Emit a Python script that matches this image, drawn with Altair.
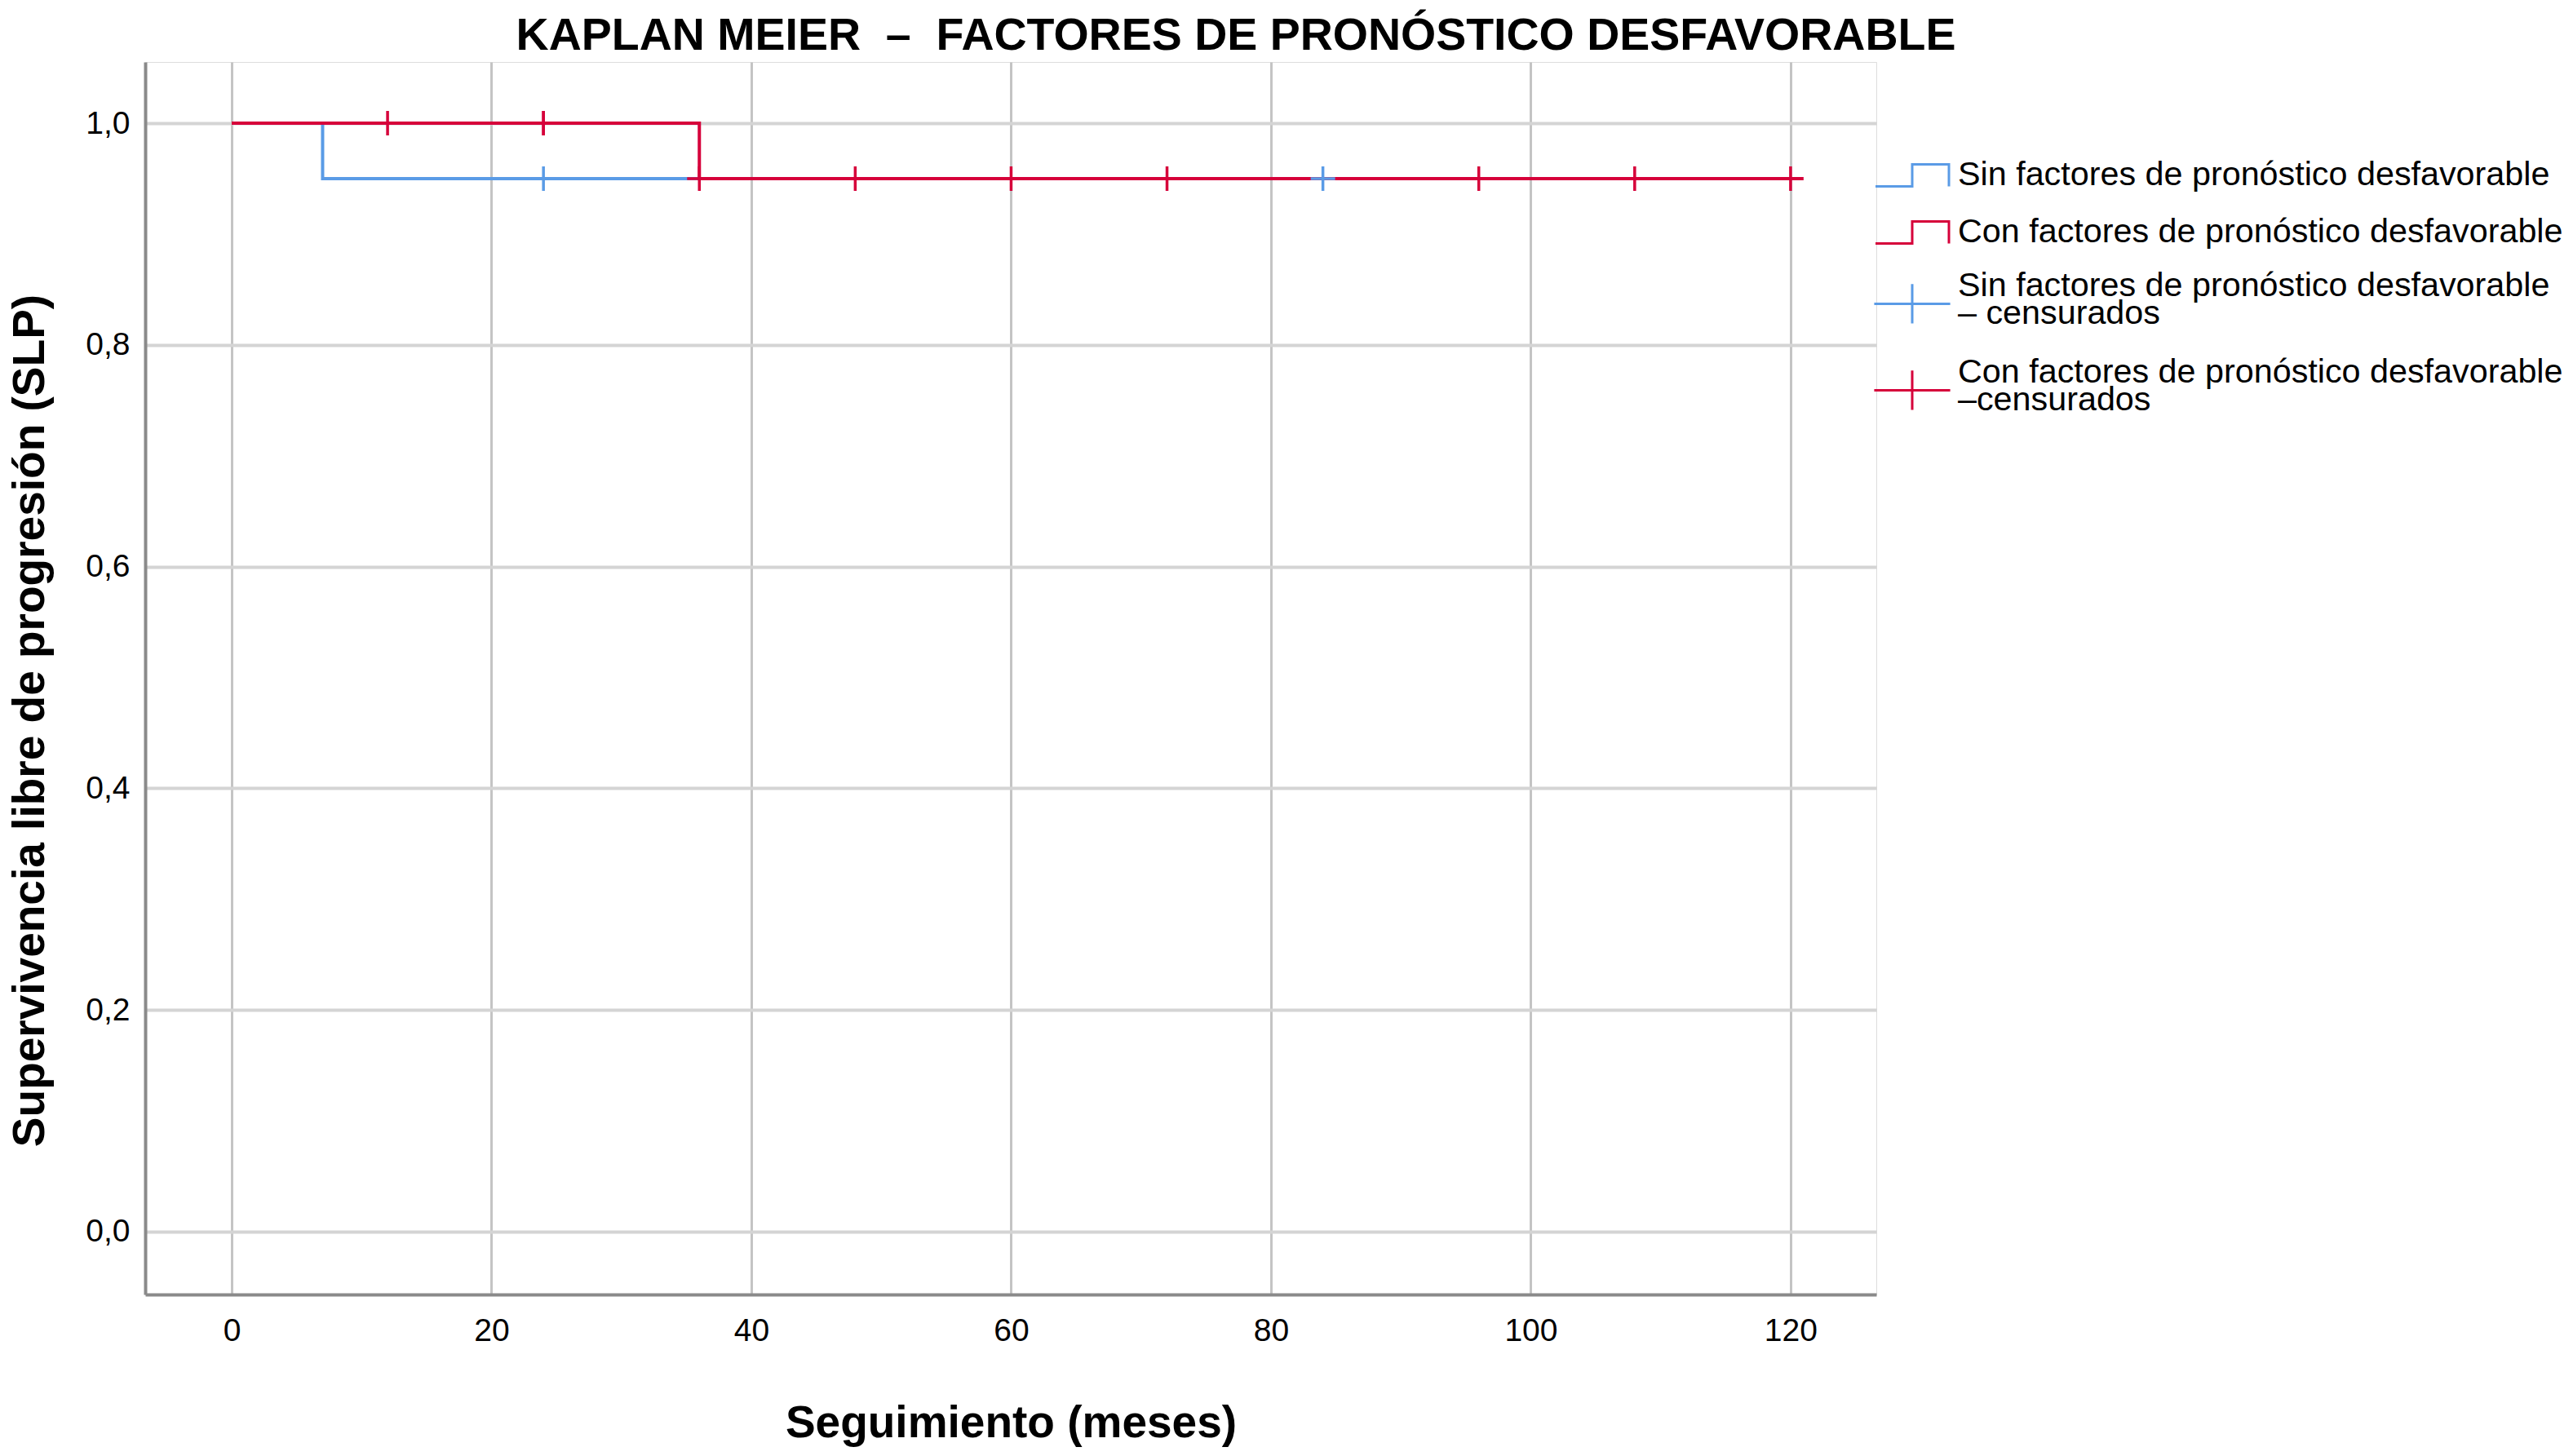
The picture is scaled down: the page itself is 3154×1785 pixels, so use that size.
import altair as alt
import pandas as pd

# ---- data ----
grupos = ["Sin factores de pronóstico desfavorable",
          "Con factores de pronóstico desfavorable"]
grupos_cens = ["Sin factores de pronóstico desfavorable\n– censurados",
               "Con factores de pronóstico desfavorable\n–censurados"]
colores = ["#5a9be6", "#d6003a"]

# Kaplan-Meier step curves (time in months, survival)
sin_t = [0, 7, 84]
sin_s = [1.0, 0.95, 0.95]
con_t = [0, 36, 121]
con_s = [1.0, 0.95, 0.95]

# censored observations
sin_cens_t = [24, 84]
sin_cens_s = [0.95, 0.95]
con_cens_t = [12, 24, 24, 36, 48, 60, 72, 96, 108, 120]
con_cens_s = [1.0, 1.0, 1.0, 0.95, 0.95, 0.95, 0.95, 0.95, 0.95, 0.95]

x_ticks = [0, 20, 40, 60, 80, 100, 120]
y_ticks = [0.0, 0.2, 0.4, 0.6, 0.8, 1.0]

titulo = "KAPLAN MEIER \u00a0–\u00a0 FACTORES DE PRONÓSTICO DESFAVORABLE"
x_titulo = "Seguimiento (meses)"
y_titulo = "Supervivencia libre de progresión (SLP)"

FONT = "Liberation Sans"

df_sin = pd.DataFrame({"t": sin_t, "s": sin_s, "grupo": grupos[0]})
df_con = pd.DataFrame({"t": con_t, "s": con_s, "grupo": grupos[1]})
df_cens = pd.concat([
    pd.DataFrame({"t": sin_cens_t, "s": sin_cens_s, "grupo_c": grupos_cens[0]}),
    pd.DataFrame({"t": con_cens_t, "s": con_cens_s, "grupo_c": grupos_cens[1]}),
])

xs = alt.Scale(domain=[-6.656, 126.6], nice=False, zero=False)
ys = alt.Scale(domain=[-0.0567, 1.0552], nice=False, zero=False)

x_axis = alt.Axis(values=x_ticks, title=x_titulo, grid=True, gridColor="#c4c4c4",
                  gridWidth=3, ticks=False, domainColor="#8a8a8a", domainWidth=4,
                  labelFontSize=39, labelFont=FONT, labelColor="#000000",
                  labelPadding=25, titleFontSize=55, titleFont=FONT,
                  titleFontWeight="bold", titleColor="#000000",
                  titleBaseline="alphabetic", titleY=174)
y_axis = alt.Axis(values=y_ticks, title=y_titulo, grid=True, gridColor="#d4d4d4",
                  gridWidth=4, ticks=False, domainColor="#8a8a8a", domainWidth=4,
                  labelFontSize=39, labelFont=FONT, labelColor="#000000",
                  labelPadding=19,
                  labelExpr="replace(format(datum.value, '.1f'), '.', ',')",
                  titleFontSize=55, titleFont=FONT, titleFontWeight="bold",
                  titleColor="#000000", titleX=-113, titleY=807)

color_scale = alt.Scale(domain=grupos, range=colores)
stroke_scale = alt.Scale(domain=grupos_cens, range=colores)

legend_lines = alt.Legend(title=None, orient="none", legendX=2142, legendY=115,
                          symbolType="M-2,0.6H0V-0.6H2V0.6", symbolSize=2025,
                          symbolStrokeWidth=3, symbolFillColor="transparent",
                          labelFontSize=41.3, labelFont=FONT, labelColor="#000000",
                          labelLimit=1200, labelOffset=32, rowPadding=25, padding=0)
legend_cens = alt.Legend(title=None, orient="none", legendX=2142, legendY=251,
                         symbolType="M-2.07,0.95H2.07M0,-0.12V2.02", symbolSize=2025,
                         symbolStrokeWidth=3, symbolFillColor="transparent",
                         labelFontSize=41.3, labelFont=FONT, labelColor="#000000",
                         labelLimit=1200, labelOffset=32, rowPadding=27, padding=0,
                         labelExpr="split(datum.label, '\\n')")

base_x = alt.X("t:Q", scale=xs, axis=x_axis)
base_y = alt.Y("s:Q", scale=ys, axis=y_axis)

line_sin = alt.Chart(df_sin).mark_line(interpolate="step-after", strokeWidth=4).encode(
    x=base_x, y=base_y,
    color=alt.Color("grupo:N", scale=color_scale, legend=legend_lines))
line_con = alt.Chart(df_con).mark_line(interpolate="step-after", strokeWidth=4).encode(
    x=base_x, y=base_y,
    color=alt.Color("grupo:N", scale=color_scale, legend=legend_lines))
cens = alt.Chart(df_cens).mark_point(shape="M-1,0H1M0,-1V1", size=900, filled=False,
                                      strokeWidth=3.5, opacity=1).encode(
    x=base_x, y=base_y,
    stroke=alt.Stroke("grupo_c:N", scale=stroke_scale, legend=legend_cens))

chart = alt.layer(line_sin, line_con, cens).properties(
    width=2122, height=1511,
    autosize=alt.AutoSizeParams(type="none"),
    padding={"left": 170, "top": 68, "right": 846, "bottom": 190},
    title=alt.TitleParams(text=titulo, anchor="middle", frame="group", dx=276,
                          fontSize=55.5, font=FONT, fontWeight="bold",
                          color="#000000", offset=4),
).configure_view(strokeWidth=0).configure(
    background="white", style={"guide-label": {"lineHeight": 34}})

chart.save("out.html", embed_options={"renderer": "svg", "actions": False})
